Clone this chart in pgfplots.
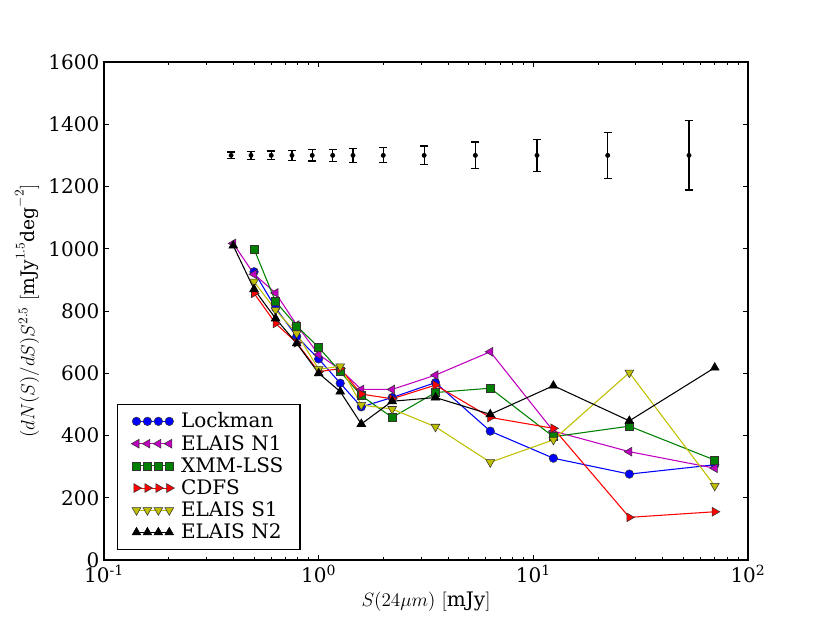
\documentclass[border=0pt]{standalone}
\usepackage{pgfplots}
\usepackage{pgfplotstable}
\pgfplotsset{compat=1.18}
\usepackage{fontspec}
\setmainfont{DejaVu Serif}

\pgfplotstableread{
x y e
0.391 1300 11
0.484 1300 12
0.601 1300 14
0.751 1300 16
0.933 1300 18
1.162 1300 20
1.445 1300 22
2.0 1300 24
3.1 1300 30
5.37 1300 43
10.4 1300 52
22.2 1300 74
53.1 1300 111
}\errtab

\pgfplotstableread{
x y
0.50 926
0.63 810
0.79 718
1.00 646
1.26 568
1.58 492
2.2 522
3.5 570
6.3 414
12.4 327
28 276
70 306
}\lockman

\pgfplotstableread{
x y
0.40 1017
0.50 918
0.63 858
0.79 755
1.00 660
1.26 612
1.58 548
2.2 548
3.5 594
6.3 669
12.4 414
28 348
70 295
}\elaisnone

\pgfplotstableread{
x y
0.50 999
0.63 830
0.79 752
1.00 683
1.26 605
1.58 528
2.2 458
3.5 538
6.3 552
12.4 396
28 430
70 321
}\xmm

\pgfplotstableread{
x y
0.50 857
0.63 760
0.79 698
1.00 605
1.26 615
1.58 533
2.2 518
3.5 562
6.3 458
12.4 423
28 137
70 155
}\cdfs

\pgfplotstableread{
x y
0.50 894
0.63 803
0.79 728
1.00 613
1.26 622
1.58 498
2.2 485
3.5 428
6.3 314
12.4 386
28 602
70 238
}\elaissone

\pgfplotstableread{
x y
0.40 1010
0.50 870
0.63 776
0.79 696
1.00 600
1.26 541
1.58 437
2.2 510
3.5 522
6.3 468
12.4 560
28 447
70 618
}\elaisntwo

\definecolor{cmag}{rgb}{0.75,0,0.75}
\definecolor{cgreen}{rgb}{0,0.5,0}
\definecolor{cyel}{rgb}{0.75,0.75,0}

\begin{document}
\begin{tikzpicture}
\path[use as bounding box] (0,0) rectangle (622.5pt,467.25pt);
\begin{axis}[
  at={(78pt,47.25pt)}, anchor=south west,
  width=483pt, height=373.5pt, scale only axis,
  xmode=log, xmin=0.1, xmax=100, ymin=0, ymax=1600,
  ytick={0,200,...,1600},
  yticklabel={\pgfmathprintnumber[assume math mode=true,1000 sep={}]{\tick}},
  xtick={0.1,1,10,100},
  xticklabels={10\textsuperscript{-1},10\textsuperscript{0},10\textsuperscript{1},10\textsuperscript{2}},
  minor xtick={0.2,0.3,0.4,0.5,0.6,0.7,0.8,0.9,2,3,4,5,6,7,8,9,20,30,40,50,60,70,80,90},
  font=\fontsize{15pt}{17pt}\selectfont,
  major tick length=3.8pt, minor tick length=2.2pt,
  tick style={line width=0.6pt, black},
  axis line style={line width=0.9pt},
  xlabel={$S(24\mu m)$ $[\mathrm{mJy}]$},
  ylabel={$(dN(S)/dS)S^{2.5}$ $[\mathrm{mJy}^{1.5}\mathrm{deg}^{-2}]$},
  xlabel style={font=\fontsize{15pt}{17pt}\selectfont},
  ylabel style={font=\fontsize{14pt}{16pt}\selectfont},
  legend cell align=left,
  legend style={at={(0.02,0.02)}, anchor=south west, draw=black, line width=0.8pt,
    font=\fontsize{15pt}{17pt}\selectfont, row sep=0pt, inner xsep=10.5pt, inner ysep=4.5pt},
  legend image code/.code={\draw[mark repeat=1] plot coordinates {(0pt,0pt)(8.2pt,0pt)(16.4pt,0pt)(24.6pt,0pt)}; \path (31pt,0pt);},
]
\addplot[black, only marks, mark=*, mark size=1.6pt, forget plot,
  error bars/.cd, y dir=both, y explicit,
  error bar style={line width=0.9pt, black},
  error mark options={rotate=90, mark size=3pt, line width=0.9pt, black}]
  table[x=x, y=y, y error=e] {\errtab};

\addplot[blue, line width=0.8pt, mark=*, mark size=3.2pt,
  mark options={fill=blue, draw=black!80, line width=0.4pt}] table[x=x,y=y] {\lockman};
\addlegendentry{Lockman}
\addplot[cmag, line width=0.8pt, mark=triangle*, mark size=3.8pt,
  mark options={rotate=90, fill=cmag, draw=black!80, line width=0.4pt}] table[x=x,y=y] {\elaisnone};
\addlegendentry{ELAIS N1}
\addplot[cgreen, line width=0.8pt, mark=square*, mark size=3pt,
  mark options={fill=cgreen, draw=black!80, line width=0.4pt}] table[x=x,y=y] {\xmm};
\addlegendentry{XMM-LSS}
\addplot[red, line width=0.8pt, mark=triangle*, mark size=3.8pt,
  mark options={rotate=-90, fill=red, draw=black!80, line width=0.4pt}] table[x=x,y=y] {\cdfs};
\addlegendentry{CDFS}
\addplot[cyel, line width=0.8pt, mark=triangle*, mark size=3.8pt,
  mark options={rotate=180, fill=cyel, draw=black!80, line width=0.4pt}] table[x=x,y=y] {\elaissone};
\addlegendentry{ELAIS S1}
\addplot[black, line width=0.8pt, mark=triangle*, mark size=3.8pt,
  mark options={fill=black, draw=black, line width=0.4pt}] table[x=x,y=y] {\elaisntwo};
\addlegendentry{ELAIS N2}
\end{axis}
\end{tikzpicture}
\end{document}
